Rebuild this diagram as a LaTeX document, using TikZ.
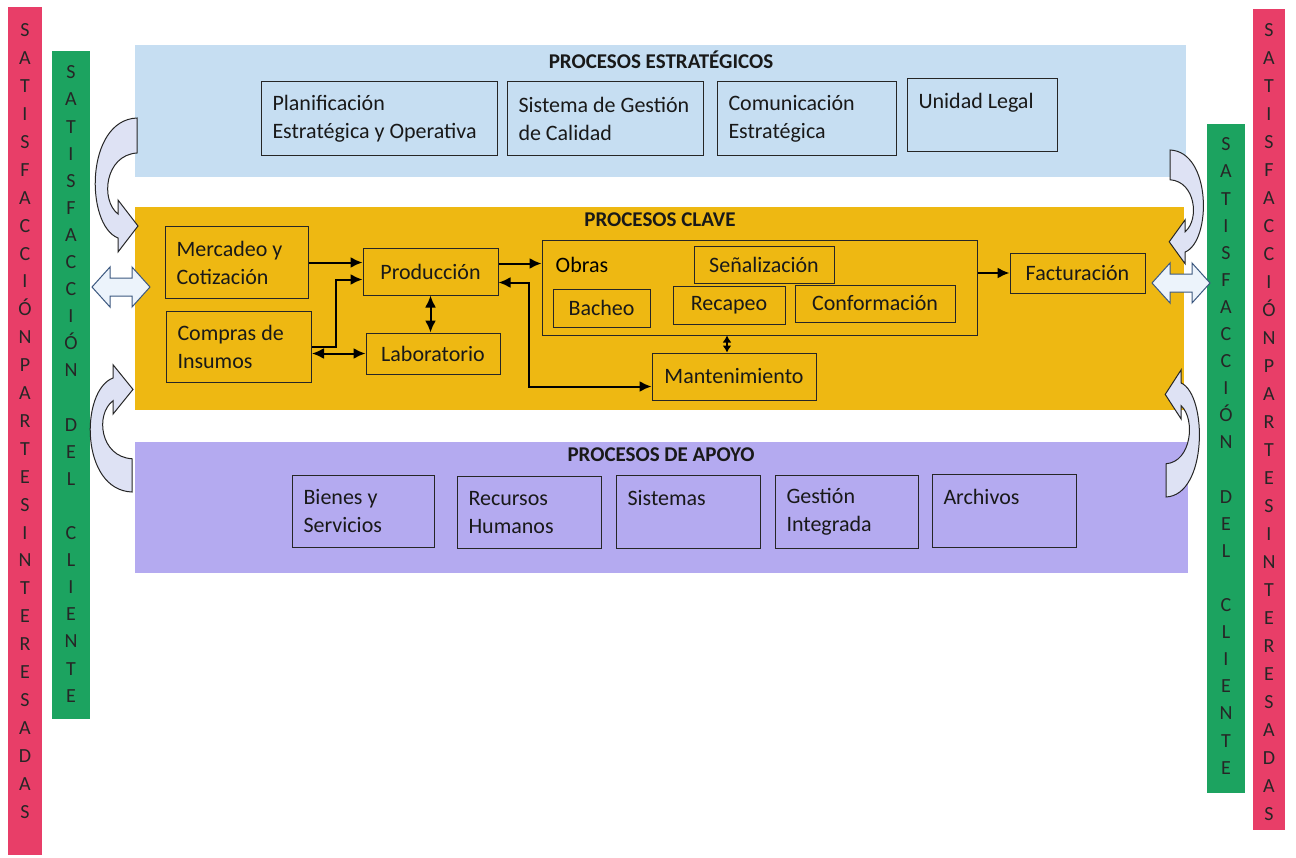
\documentclass[tikz,border=0pt]{standalone}
\usepackage{fontspec}
\setmainfont{Carlito}
\usepackage{xcolor}
\usetikzlibrary{arrows, arrows.meta}
\definecolor{mypink}{RGB}{232,62,104}
\definecolor{mygreen}{RGB}{28,163,96}
\definecolor{myblue}{RGB}{198,222,242}
\definecolor{mygold}{RGB}{238,184,18}
\definecolor{mypurple}{RGB}{180,170,240}
\definecolor{myarrow}{RGB}{222,226,244}
\definecolor{mylight}{RGB}{236,243,251}
\definecolor{myedge}{RGB}{60,88,128}
\newcommand{\txtpartes}{S\\A\\T\\I\\S\\F\\A\\C\\C\\I\\Ó\\N\\P\\A\\R\\T\\E\\S\\I\\N\\T\\E\\R\\E\\S\\A\\D\\A\\S}
\newcommand{\txtcliente}{S\\A\\T\\I\\S\\F\\A\\C\\C\\I\\Ó\\N\\~\\D\\E\\L\\~\\C\\L\\I\\E\\N\\T\\E}
\tikzset{
procbox/.style={draw=black!85, line width=1pt, inner sep=0pt, text=black!90},
txtbox/.style={procbox, anchor=north west, align=flush left, inner xsep=11pt},
headtxt/.style={font=\bfseries\fontsize{21}{25}\selectfont, text=black!90},
bartxt/.style={align=flush center, inner sep=0pt, text=black!85},
arr/.style={-{Latex[length=12pt,width=11pt]}, line width=2pt},
arr2/.style={{Latex[length=12pt,width=11pt]}-{Latex[length=12pt,width=11pt]}, line width=2pt},
arr3/.style={{Latex[length=7pt,width=9pt]}-{Latex[length=7pt,width=9pt]}, line width=2pt},
curvarr/.pic={
\draw[draw=black!85, fill=myarrow, line width=1pt] (0,0) .. controls (-52,2) and (-52,107) .. (-19,120)
 -- (-19,134) -- (1,108) -- (-19,82) -- (-19,96) .. controls (-37,82) and (-32,37) .. (0,35) -- cycle;
},
dblarr/.pic={
\draw[draw=myedge, fill=mylight, line width=1pt] (0,0) -- (18,-20) -- (18,-9) -- (40,-9) -- (40,-20)
 -- (58,0) -- (40,20) -- (40,9) -- (18,9) -- (18,20) -- cycle;
}
}

\begin{document}
\begin{tikzpicture}[x=1pt, y=-1pt, font=\fontsize{22}{28}\selectfont]
\useasboundingbox (0,0) rectangle (1296,857);
\fill[white] (0,0) rectangle (1296,857);

\fill[mypink] (8,7) rectangle (42,855);
\fill[mygreen] (52,51) rectangle (90,719);
\fill[mygreen] (1207,124) rectangle (1245,793);
\fill[mypink] (1253,9) rectangle (1285,830);
\node[bartxt, font=\fontsize{20}{27.9}\selectfont] (lpink) at (25,421) {\txtpartes};
\node[bartxt, font=\fontsize{20}{27.1}\selectfont] (lgreen) at (71,384) {\txtcliente};
\node[bartxt, font=\fontsize{20}{27.1}\selectfont] (rgreen) at (1226,456) {\txtcliente};
\node[bartxt, font=\fontsize{20}{28}\selectfont] (rpink) at (1269,422) {\txtpartes};

\fill[myblue] (135,45) rectangle (1186,177);
\fill[mygold] (135,207) rectangle (1184,410);
\fill[mypurple] (135,442) rectangle (1188,573);

\node[headtxt] (tstra) at (661,60) {PROCESOS ESTRATÉGICOS};
\node[headtxt] (tclave) at (660,220) {PROCESOS CLAVE};
\node[headtxt] (tapoyo) at (661,455) {PROCESOS DE APOYO};

\node[txtbox, text width=214pt, minimum height=74pt] (plan) at (261,81) {Planificación\\Estratégica y Operativa};
\node[txtbox, text width=174pt, minimum height=74pt] (sgc) at (507,81) {Sistema de Gestión\\de Calidad};
\node[txtbox, text width=157pt, minimum height=74pt] (com) at (717,81) {Comunicación\\Estratégica};
\node[txtbox, text width=128pt, minimum height=73pt] (legal) at (907,78) {Unidad Legal\\~};

\node[txtbox, text width=121pt, minimum height=72pt] (merc) at (165,226) {Mercadeo y\\Cotización};
\node[txtbox, text width=123pt, minimum height=71pt] (comp) at (166,311) {Compras de\\Insumos};
\node[procbox, minimum width=135pt, minimum height=47pt] (prod) at (430.5,271.5) {Producción};
\node[procbox, minimum width=134pt, minimum height=41pt] (lab) at (433,353.5) {Laboratorio};
\node[procbox, minimum width=435pt, minimum height=95pt] (obras) at (759.5,287.5) {};
\node[anchor=west, inner sep=0pt] (obraslbl) at ([xshift=14pt,yshift=-25pt]obras.north west) {Obras};
\node[procbox, minimum width=140pt, minimum height=37pt] (senal) at (764,264.5) {Señalización};
\node[procbox, minimum width=97pt, minimum height=38pt] (bach) at (601.5,308) {Bacheo};
\node[procbox, minimum width=112pt, minimum height=38pt] (recap) at (729,305) {Recapeo};
\node[procbox, minimum width=160pt, minimum height=37pt] (conf) at (875,303.5) {Conformación};
\node[procbox, minimum width=164pt, minimum height=47pt] (mant) at (734,376.5) {Mantenimiento};
\node[procbox, minimum width=135pt, minimum height=40pt] (fact) at (1077.5,273) {Facturación};

\draw[arr] (merc.east) -- (merc.east -| prod.west);
\draw[arr] (comp.east) -- ++(24,0) |- ([yshift=-8pt]prod.west);
\draw[arr2] (lab.west -| comp.east) -- (lab.west);
\draw[arr2] (prod.south) -- (prod.south |- lab.north);
\draw[arr] ([yshift=8pt]prod.east) -- ([yshift=8pt]prod.east -| obras.west);
\draw[arr2] ([yshift=-11pt]prod.east) -- ++(30,0) |- ([yshift=-10pt]mant.west);
\draw[arr3] ([xshift=-7pt]mant.north) -- ([xshift=-7pt]mant.north |- obras.south);
\draw[arr] (obras.east |- fact.west) -- (fact.west);

\node[txtbox, text width=120pt, minimum height=72pt] (bienes) at (292,475) {Bienes y\\Servicios};
\node[txtbox, text width=122pt, minimum height=72pt] (rrhh) at (457,476) {Recursos\\Humanos};
\node[txtbox, text width=122pt, minimum height=73pt] (sist) at (616,475) {Sistemas\\~};
\node[txtbox, text width=121pt, minimum height=73pt] (gest) at (775,475) {Gestión\\Integrada};
\node[txtbox, text width=122pt, minimum height=73pt] (arch) at (932,474) {Archivos\\~};

\pic at (137,118) {curvarr};
\pic[yscale=-0.95] at (132,492) {curvarr};
\pic[xscale=-0.8, yscale=0.85] at (1170,150) {curvarr};
\pic[xscale=-0.8, yscale=-0.95] at (1166,497) {curvarr};
\pic at (92,287) {dblarr};
\pic at (1152,283) {dblarr};
\end{tikzpicture}
\end{document}
